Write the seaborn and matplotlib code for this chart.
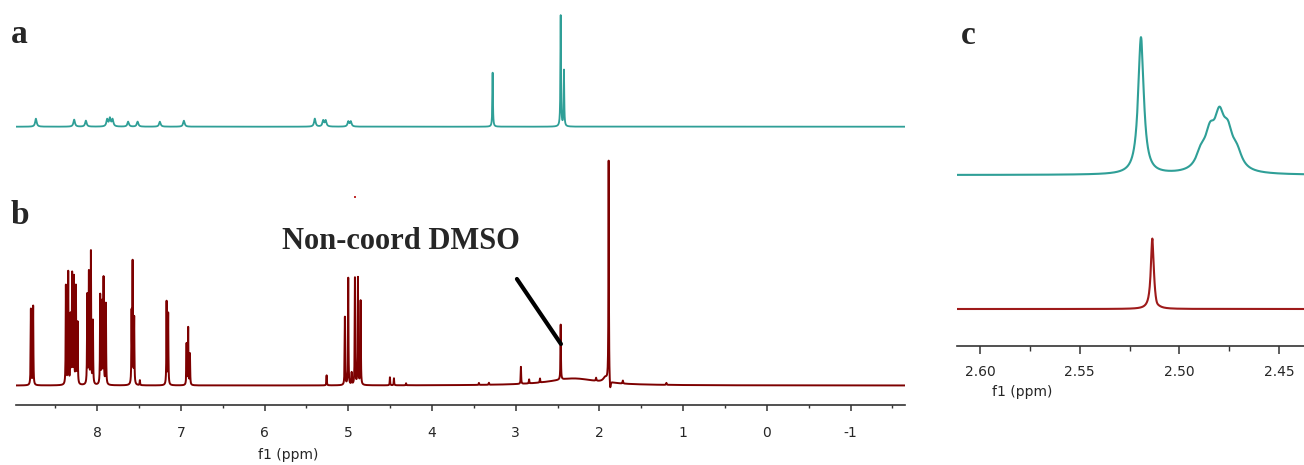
import numpy as np
import pandas as pd
import matplotlib
matplotlib.use('Agg')
import matplotlib.pyplot as plt
from matplotlib.ticker import MultipleLocator, FormatStrFormatter
import seaborn as sns

# peak tables: shift (ppm), height, half width (ppm)
# spectrum a (teal, full range)
a_ppm = [8.732, 8.275, 8.135, 7.881, 7.848, 7.816, 7.630, 7.517, 7.251, 6.964,
	5.40, 5.30, 5.27, 5.00, 4.97, 3.276, 2.463, 2.424]
a_height = [8, 7, 6, 7, 8, 7, 5, 5, 5, 6,
	8, 6, 6, 5, 5, 54, 111, 56]
a_hwhm = [0.011] * 15 + [0.004, 0.004, 0.004]

# spectrum b (dark red, full range)
b_ppm = [8.792, 8.765, 8.374, 8.346, 8.318, 8.299, 8.278, 8.254, 8.234,
	8.119, 8.099, 8.075, 8.051, 7.964, 7.944, 7.924, 7.896,
	7.589, 7.577, 7.558, 7.490, 7.171, 7.152, 6.932, 6.913, 6.892,
	5.259, 5.041, 5.001, 4.960, 4.921, 4.885, 4.853, 4.503, 4.455, 4.31,
	3.44, 3.32, 2.938, 2.84, 2.71, 2.463, 2.31, 2.04, 1.93, 1.890, 1.872, 1.72, 1.20]
b_height = [76, 79, 99, 112, 68, 109, 106, 97, 61,
	89, 111, 132, 63, 89, 81, 106, 81,
	69, 120, 66, 5, 83, 71, 41, 57, 31,
	10, 68, 107, 12, 107, 107, 84, 8, 7, 2,
	2, 2, 17, 4, 4, 55, 7, 3, 5, 222, -11, 3, 2]
b_hwhm = [0.003] * 42 + [0.35, 0.004, 0.03, 0.003, 0.008, 0.004, 0.004]

# panel c, zoom on 2.44-2.61 ppm
c_teal_ppm = [2.5193, 2.4892, 2.4847, 2.4800, 2.4757, 2.4712]
c_teal_height = [137, 15, 31, 46, 31, 15]
c_teal_hwhm = [0.0017, 0.003, 0.003, 0.003, 0.003, 0.003]
c_red_ppm = [2.5136, 2.5115]
c_red_height = [71, -3]
c_red_hwhm = [0.0009, 0.001]

# odd red speck in panel b
speck_ppm = [4.92]
speck_y = [188.5]

TEAL = '#2f9f97'
DARKRED = '#7d0000'
RED = '#9e1a1a'
W, H = 1304, 465


def spectrum(grid, centers, heights, hwhm):
	"""sum of lorentzian lines on grid"""
	g = np.asarray(grid)[:, None]
	c = np.asarray(centers)[None, :]
	h = np.asarray(heights, dtype=float)[None, :]
	w = np.asarray(hwhm)[None, :]
	return (h / (1.0 + ((g - c) / w) ** 2)).sum(axis=1)


def makeDf(lo, hi, n, centers, heights, hwhm, offset=0.0):
	grid = np.sort(np.concatenate([np.linspace(lo, hi, n), centers]))
	return pd.DataFrame({'ppm': grid, 'intensity': spectrum(grid, centers, heights, hwhm) + offset})


def run():
	sns.set_style('ticks')
	plt.rcParams['font.family'] = ['DejaVu Sans']
	plt.rcParams['axes.unicode_minus'] = False

	fig = plt.figure(figsize=(W / 100, H / 100), dpi=100)

	def axRect(x0, y0, x1, y1):
		return [x0 / W, 1 - y1 / H, (x1 - x0) / W, (y1 - y0) / H]

	xlo, xhi = -1.65, 8.97

	# panel a
	axA = fig.add_axes(axRect(16, 5, 905, 135))
	dfA = makeDf(xlo, xhi, 21000, a_ppm, a_height, a_hwhm)
	sns.lineplot(x='ppm', y='intensity', data=dfA, ax=axA, color=TEAL, lw=1.3, estimator=None)
	axA.set_xlim(xhi, xlo)
	axA.set_ylim(-8.3, 121.7)
	axA.axis('off')

	# panel b
	axB = fig.add_axes(axRect(16, 150, 905, 405))
	dfB = makeDf(xlo, xhi, 21000, b_ppm, b_height, b_hwhm)
	sns.lineplot(x='ppm', y='intensity', data=dfB, ax=axB, color=DARKRED, lw=1.4, estimator=None)
	axB.plot(speck_ppm, speck_y, 's', color='#c03030', ms=1.5, mew=0)
	axB.set_xlim(xhi, xlo)
	axB.set_ylim(-19.5, 235.5)
	sns.despine(ax=axB, left=True)
	axB.set_yticks([])
	axB.set_ylabel('')
	axB.xaxis.set_major_locator(MultipleLocator(1))
	axB.xaxis.set_minor_locator(MultipleLocator(0.5))
	axB.tick_params(axis='x', which='major', length=4.3, width=1.1, pad=11, labelsize=10, color='#333333')
	axB.tick_params(axis='x', which='minor', length=2.2, width=1.0, color='#333333')
	axB.spines['bottom'].set_linewidth(1.2)
	axB.spines['bottom'].set_color('#333333')
	axB.set_xlabel('f1 (ppm)', fontsize=10)
	axB.xaxis.set_label_coords(0.306, -0.196)
	axB.xaxis.label.set_va('center')

	axB.text(5.793, 136.5, 'Non-coord DMSO', family='Liberation Serif', fontweight='bold',
		fontsize=22, ha='left', va='baseline')
	axB.annotate('', xy=(2.46, 41.5), xytext=(2.986, 106.5),
		arrowprops=dict(arrowstyle='-', lw=3, color='k', shrinkA=0, shrinkB=0))

	# panel c
	axC = fig.add_axes(axRect(957, 20, 1304, 346))
	clo, chi = 2.4376, 2.6115
	dfTeal = makeDf(clo, chi, 2500, c_teal_ppm, c_teal_height, c_teal_hwhm, offset=171)
	dfRed = makeDf(clo, chi, 2500, c_red_ppm, c_red_height, c_red_hwhm, offset=37)
	sns.lineplot(x='ppm', y='intensity', data=dfTeal, ax=axC, color=TEAL, lw=1.5, estimator=None)
	sns.lineplot(x='ppm', y='intensity', data=dfRed, ax=axC, color=RED, lw=1.5, estimator=None)
	axC.set_xlim(chi, clo)
	axC.set_ylim(0, 326)
	sns.despine(ax=axC, left=True)
	axC.set_yticks([])
	axC.set_ylabel('')
	axC.xaxis.set_major_locator(MultipleLocator(0.05))
	axC.xaxis.set_minor_locator(MultipleLocator(0.025))
	axC.xaxis.set_major_formatter(FormatStrFormatter('%.2f'))
	axC.tick_params(axis='x', which='major', length=5.8, width=1.1, pad=8, labelsize=10, color='#333333')
	axC.tick_params(axis='x', which='minor', length=3.5, width=1.0, color='#333333')
	axC.spines['bottom'].set_linewidth(1.2)
	axC.spines['bottom'].set_color('#333333')
	axC.set_xlabel('f1 (ppm)', fontsize=10)
	axC.xaxis.set_label_coords(0.187, -0.141)
	axC.xaxis.label.set_va('center')

	# panel letters
	for letter, px, py in [('a', 11, 43), ('b', 11, 224), ('c', 961, 44)]:
		fig.text(px / W, 1 - py / H, letter, family='Liberation Serif', fontweight='bold',
			fontsize=24, va='baseline', ha='left')

	fig.savefig('out.png', dpi=100)


if __name__ == '__main__':
	run()
